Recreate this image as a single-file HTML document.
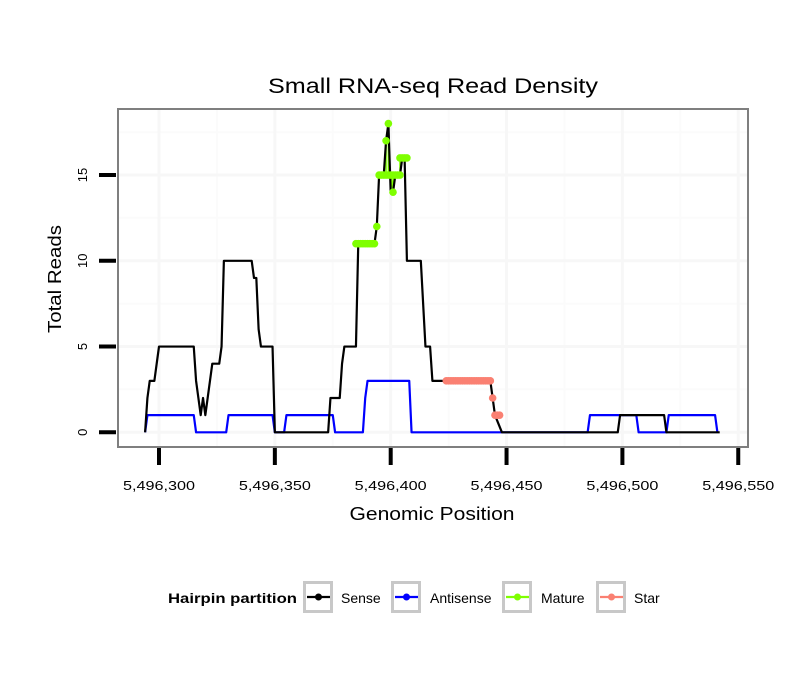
<!DOCTYPE html>
<html><head><meta charset="utf-8"><style>
body{margin:0;background:#fff;font-family:"Liberation Sans",sans-serif}
svg text{font-family:"Liberation Sans",sans-serif}
</style></head><body>
<svg id="chart" width="810" height="690">
<rect width="810" height="690" fill="#fff"/>
<text x="433" y="93" font-size="21" text-anchor="middle" textLength="330" lengthAdjust="spacingAndGlyphs">Small RNA-seq Read Density</text>
<g id="grid"></g>
<g id="series"></g>
<rect x="118" y="109" width="630" height="338" fill="none" stroke="#7f7f7f" stroke-width="2"/>
<g id="axes"></g>
<text x="432" y="520" font-size="18" text-anchor="middle" textLength="165" lengthAdjust="spacingAndGlyphs">Genomic Position</text>
<text transform="translate(61,279) rotate(-90)" font-size="18" text-anchor="middle" textLength="108" lengthAdjust="spacingAndGlyphs">Total Reads</text>
<g>
<text x="168" y="603" font-size="14" font-weight="bold" textLength="129" lengthAdjust="spacingAndGlyphs">Hairpin partition</text>
<g id="legend-keys"></g>
</g>
</svg>
<script>
const xTicks=[5496300,5496350,5496400,5496450,5496500,5496550];
const xTickLabels=["5,496,300","5,496,350","5,496,400","5,496,450","5,496,500","5,496,550"];
const yTicks=[0,5,10,15];
const yTickLabels=["0","5","10","15"];
const base=5496300;
const senseOffsets=[-6,-5,-4,-2,-1,0,15,16,17,18,19,20,21,22,23,26,27,28,40,41,42,43,44,49,50,73,74,78,79,80,85,86,93,94,95,97,98,99,100,101,102,104,105,106,107,113,115,117,118,120,143,144,145,148,198,199,218,219,242];
const senseValues=[0,2,3,3,4,5,5,3,2,1,2,1,2,3,4,4,5,10,10,9,9,6,5,5,0,0,2,2,4,5,5,11,11,12,15,15,17,18,14,14,15,15,16,16,10,10,5,5,3,3,3,2,1,0,0,1,1,0,0];
const antisenseOffsets=[-6,-5,15,16,29,30,49,50,54,55,75,76,88,89,90,108,109,185,186,206,207,219,220,240,241];
const antisenseValues=[0,1,1,0,0,1,1,0,0,1,1,0,0,2,3,3,0,0,1,1,0,0,1,1,0];
const matureOffsets=[85,86,87,88,89,90,91,92,93,94,95,96,97,98,98,99,99,100,101,101,102,103,104,104,105,106,107];
const matureValues=[11,11,11,11,11,11,11,11,11,12,15,15,15,15,17,18,15,15,14,15,15,15,15,16,16,16,16];
const starOffsets=[124,125,126,127,128,129,130,131,132,133,134,135,136,137,138,139,140,141,142,143,144,145,146,147];
const starValues=[3,3,3,3,3,3,3,3,3,3,3,3,3,3,3,3,3,3,3,3,2,1,1,1];
const NS="http://www.w3.org/2000/svg";
const X=v=>159+(v-base)*2.317;
const Y=v=>432.3-v*17.15;
function mk(tag,attrs,parent){const e=document.createElementNS(NS,tag);for(const k in attrs)e.setAttribute(k,attrs[k]);parent.appendChild(e);return e;}
const grid=document.getElementById('grid'),axes=document.getElementById('axes'),ser=document.getElementById('series');
for(let i=0;i<xTicks.length;i++){const m=xTicks[i]-25;if(X(m)>118){const l=mk('line',{x1:X(m),x2:X(m),y1:109,y2:447,stroke:'#fbfbfb','stroke-width':2},grid);}}
for(let v=2.5;v<=17.5;v+=5){const l=mk('line',{x1:118,x2:748,y1:Y(v),y2:Y(v),stroke:'#fbfbfb','stroke-width':2},grid);}
xTicks.forEach((t,i)=>{
 if(X(t)<748){const g=mk('line',{x1:X(t),x2:X(t),y1:109,y2:447,stroke:'#f7f7f7','stroke-width':3},grid);}
 const tk=mk('line',{x1:X(t),x2:X(t),y1:448,y2:465,stroke:'#000','stroke-width':4},axes);
 
 const tx=mk('text',{x:X(t),y:490,'font-size':13,'text-anchor':'middle',textLength:72,lengthAdjust:'spacingAndGlyphs'},axes);tx.textContent=xTickLabels[i];
 
});
yTicks.forEach((t,i)=>{
 const g=mk('line',{x1:118,x2:748,y1:Y(t),y2:Y(t),stroke:'#f7f7f7','stroke-width':3},grid);
 const tk=mk('line',{x1:99,x2:116,y1:Y(t),y2:Y(t),stroke:'#000','stroke-width':4},axes);
 
 const tx=mk('text',{transform:`translate(87,${Y(t)}) rotate(-90)`,'font-size':13,'text-anchor':'middle'},axes);tx.textContent=yTickLabels[i];
 
});
function line(offs,vals,color,name,w){
 const d=offs.map((o,i)=>`${X(base+o)},${Y(vals[i])}`).join(' ');
 const p=mk('polyline',{points:d,fill:'none',stroke:color,'stroke-width':w,'stroke-linejoin':'round'},ser);
 
}
function points(offs,vals,color,name){
 offs.forEach((o,i)=>{const c=mk('circle',{cx:X(base+o),cy:Y(vals[i]),r:3.8,fill:color},ser);});
}
line(antisenseOffsets,antisenseValues,'#0000ff','antisense',2.2);
line(matureOffsets,matureValues,'#7fff00','mature',1.5);
line(starOffsets,starValues,'#fa8072','star',1.5);
line(senseOffsets,senseValues,'#000','sense',2.2);
points(matureOffsets,matureValues,'#7fff00','mature');
points(starOffsets,starValues,'#fa8072','star');
const lk=document.getElementById('legend-keys');
const legItems=[['Sense','#000',303,341],['Antisense','#0000ff',391,430],['Mature','#7fff00',502,541],['Star','#fa8072',596,634]];
legItems.forEach(it=>{
 const g=mk('g',{},lk);
 mk('rect',{x:it[2]+1.5,y:582.5,width:27,height:29,fill:'#fff',stroke:'#c8c8c8','stroke-width':3},g);
 mk('line',{x1:it[2]+4,x2:it[2]+27,y1:597,y2:597,stroke:it[1],'stroke-width':2.2},g);
 mk('circle',{cx:it[2]+15.5,cy:597,r:3.5,fill:it[1]},g);
 const t=mk('text',{x:it[3],y:603,'font-size':14},g);t.textContent=it[0];
});
</script>
</body></html>
